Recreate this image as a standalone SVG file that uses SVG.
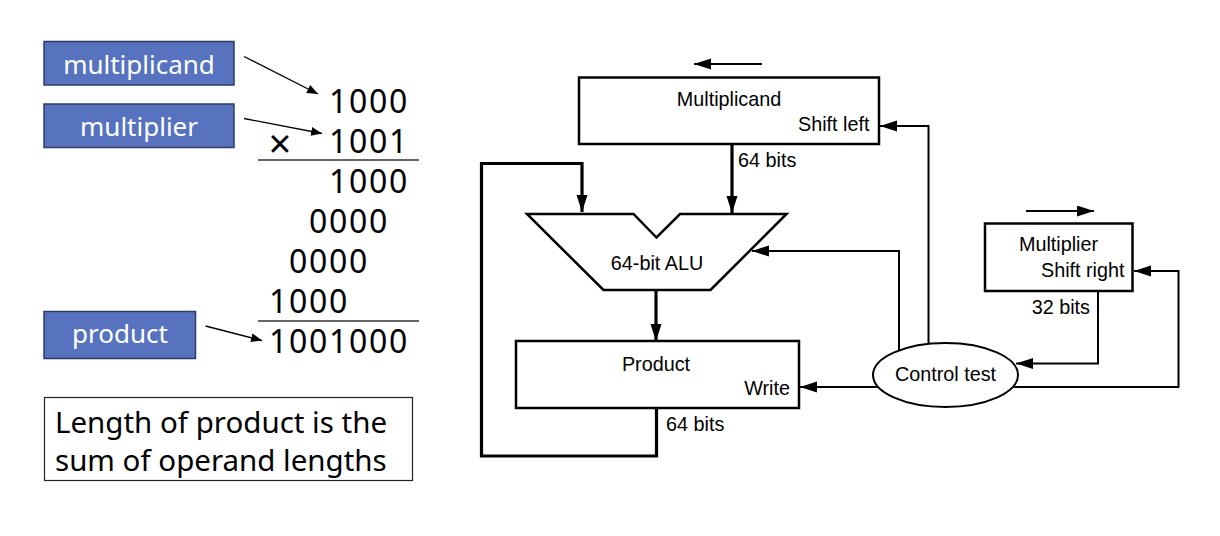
<svg xmlns="http://www.w3.org/2000/svg" width="1220" height="536" viewBox="0 0 1220 536">
<style>
.bluebox{fill:#5773bf;stroke:#2e3b66;stroke-width:1.5}
.bluetxt{font-family:"Noto Sans","Open Sans",sans-serif;font-size:26px;fill:#ffffff;text-anchor:middle}
.num{font-family:"Noto Sans","Open Sans",sans-serif;font-size:32px;fill:#000;letter-spacing:1.7px}
.note{font-family:"Noto Sans","Open Sans",sans-serif;font-size:29.5px;fill:#000}
.rule{stroke:#333;stroke-width:1.5}
.thin{stroke:#000;stroke-width:1.3;fill:none}
.box{fill:#fff;stroke:#000;stroke-width:2.5}
.lbl{font-family:"Liberation Sans",Arial,sans-serif;font-size:19.8px;fill:#000}
.data{stroke:#000;stroke-width:3.2;fill:none}
.ctl{stroke:#000;stroke-width:2;fill:none}
</style>
<defs>
<marker id="ah" markerUnits="userSpaceOnUse" markerWidth="18" markerHeight="12" refX="17" refY="5.5" orient="auto">
<path d="M0,0 L17,5.5 L0,11 z" fill="#000"/>
</marker>
<marker id="ahs" markerUnits="userSpaceOnUse" markerWidth="12" markerHeight="10" refX="11" refY="4.5" orient="auto">
<path d="M0,0 L11,4.5 L0,9 z" fill="#000"/>
</marker>
</defs>

<!-- Left panel -->
<g id="lbl-multiplicand">
<rect class="bluebox" x="44" y="41.5" width="190" height="43.5"/>
<text class="bluetxt" x="139" y="74">multiplicand</text>
</g>
<g id="lbl-multiplier">
<rect class="bluebox" x="44" y="104" width="190" height="43.5"/>
<text class="bluetxt" x="139" y="136">multiplier</text>
</g>
<g id="lbl-product">
<rect class="bluebox" x="44" y="311.5" width="151.5" height="47"/>
<text class="bluetxt" x="120" y="343">product</text>
</g>

<g id="calc">
<text class="num" x="329" y="113">1000</text>
<text class="num" x="329" y="153">1001</text>
<text x="280" y="158" style="font-family:'Noto Sans',sans-serif;font-size:40px;text-anchor:middle">×</text>
<line class="rule" x1="258" y1="160" x2="419" y2="160"/>
<text class="num" x="329" y="193">1000</text>
<text class="num" x="309" y="233">0000</text>
<text class="num" x="289" y="273">0000</text>
<text class="num" x="269" y="313">1000</text>
<line class="rule" x1="258" y1="321" x2="419" y2="321"/>
<text class="num" x="269" y="353">1001000</text>
</g>

<g id="note">
<rect x="44.5" y="397.5" width="368" height="83" fill="#fff" stroke="#222" stroke-width="1.2"/>
<text class="note" x="55" y="433">Length of product is the</text>
<text class="note" x="55" y="471">sum of operand lengths</text>
</g>

<g id="left-connectors">
<line class="thin" x1="244" y1="56.5" x2="318" y2="94" marker-end="url(#ahs)"/>
<line class="thin" x1="244" y1="118.5" x2="322" y2="133.5" marker-end="url(#ahs)"/>
<line class="thin" x1="205.5" y1="326" x2="262" y2="340.5" marker-end="url(#ahs)"/>
</g>

<!-- Right diagram connectors -->
<g id="connectors">
<line class="ctl" x1="762" y1="64" x2="694" y2="64" marker-end="url(#ah)"/>
<line class="ctl" x1="1026" y1="211" x2="1094" y2="211" marker-end="url(#ah)"/>
<line class="data" x1="732" y1="144" x2="732" y2="213" marker-end="url(#ah)"/>
<polyline class="data" points="656.5,409 656.5,456 481.5,456 481.5,163.5 582,163.5 582,212" marker-end="url(#ah)"/>
<line class="data" x1="656" y1="290" x2="656" y2="341" marker-end="url(#ah)"/>
<polyline class="ctl" points="899,360 899,251 752,251" marker-end="url(#ah)"/>
<polyline class="ctl" points="928.5,360 928.5,126 880,126" marker-end="url(#ah)"/>
<line class="ctl" x1="900" y1="387" x2="800" y2="387" marker-end="url(#ah)"/>
<polyline class="ctl" points="1098,291 1098,363.5 1016,363.5" marker-end="url(#ah)"/>
<polyline class="ctl" points="990,387 1178.5,387 1178.5,271 1134,271" marker-end="url(#ah)"/>
</g>

<g id="multiplicand-reg">
<rect class="box" x="579" y="77.5" width="300" height="66.5"/>
<text class="lbl" x="729" y="106" text-anchor="middle">Multiplicand</text>
<text class="lbl" x="869.5" y="131" text-anchor="end">Shift left</text>
<text class="lbl" x="738" y="166.5">64 bits</text>
</g>

<g id="alu">
<polygon class="box" points="527,214 633.5,214 656.5,237.5 680,214 786.5,214 710.5,290 603.5,290"/>
<text class="lbl" x="657" y="270" text-anchor="middle">64-bit ALU</text>
</g>

<g id="product-reg">
<rect class="box" x="516" y="341" width="283" height="67"/>
<text class="lbl" x="656" y="370.5" text-anchor="middle">Product</text>
<text class="lbl" x="790" y="395" text-anchor="end">Write</text>
<text class="lbl" x="666" y="431">64 bits</text>
</g>

<g id="multiplier-reg">
<rect class="box" x="985" y="223.5" width="147.5" height="67.5"/>
<text class="lbl" x="1058.5" y="251" text-anchor="middle">Multiplier</text>
<text class="lbl" x="1124.5" y="277" text-anchor="end">Shift right</text>
<text class="lbl" x="1090" y="314" text-anchor="end">32 bits</text>
</g>

<g id="control">
<ellipse cx="945.5" cy="375" rx="72.5" ry="32" fill="#fff" stroke="#000" stroke-width="2"/>
<text class="lbl" x="945.5" y="381" text-anchor="middle">Control test</text>
</g>
</svg>
